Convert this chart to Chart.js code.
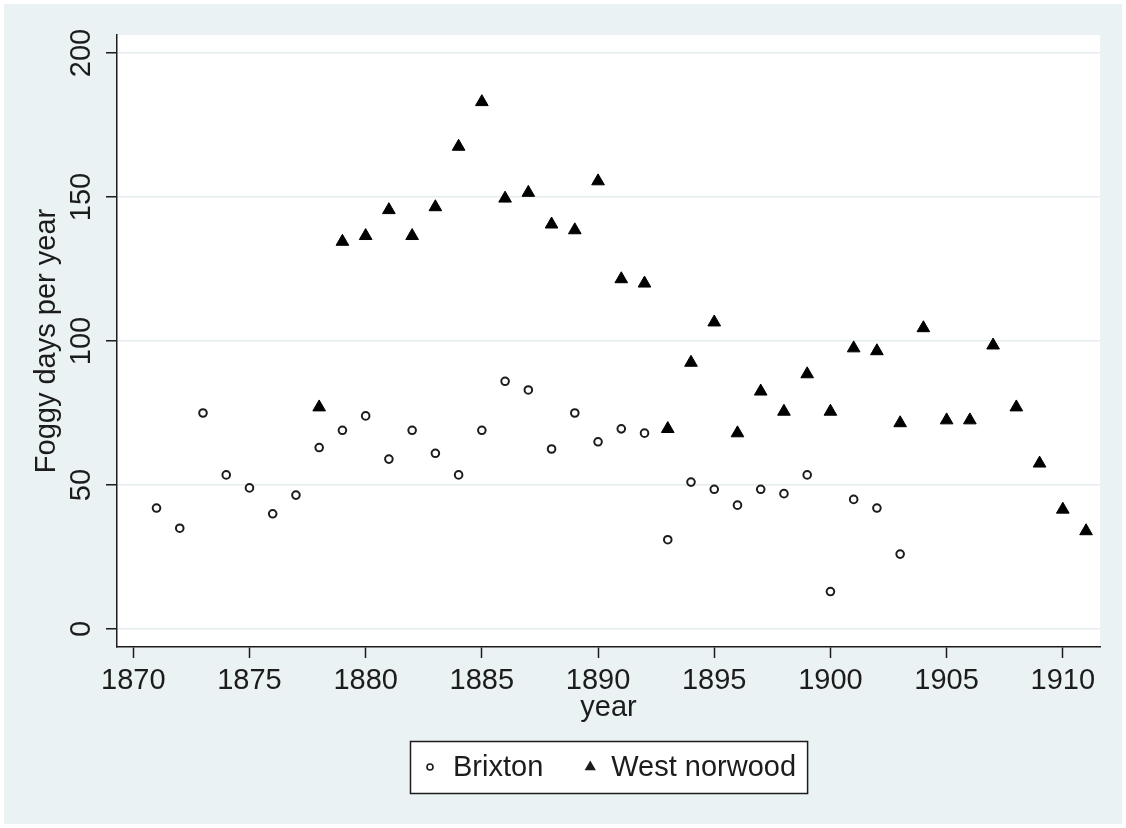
<!DOCTYPE html>
<html><head><meta charset="utf-8">
<script src="https://cdn.jsdelivr.net/npm/chart.js@4/dist/chart.umd.min.js"></script>
<style>html,body{margin:0;padding:0;background:#fff;} #wrap{width:1126px;height:828px;position:relative;} canvas{display:block;}</style>
</head><body><div id="wrap"><canvas id="c" width="1126" height="828"></canvas></div>
<script>
const years = [1871,1872,1873,1874,1875,1876,1877,1878,1879,1880,1881,1882,1883,1884,1885,1886,1887,1888,1889,1890,1891,1892,1893,1894,1895,1896,1897,1898,1899,1900,1901,1902,1903,1904,1905,1906,1907,1908,1909,1910,1911];
const brixton = [42,35,75,53.5,49,40,46.5,63,69,74,59,69,61,53.5,69,86,83,62.5,75,65,69.5,68,31,51,48.5,43,48.5,47,53.5,13,45,42,26,null,null,null,null,null,null,null,null];
const westNorwood = [null,null,null,null,null,null,null,77,134.5,136.5,145.5,136.5,146.5,167.5,183,149.5,151.5,140.5,138.5,155.5,121.5,120,69.5,92.5,106.5,68,82.5,75.5,88.5,75.5,97.5,96.5,71.5,104.5,72.5,72.5,98.5,77,57.5,41.5,34];
const xTicks = [1870,1875,1880,1885,1890,1895,1900,1905,1910];
const yTicks = [0,50,100,150,200];
const seriesNames = ['Brixton','West norwood'];
const xTitle = 'year';
const yTitle = 'Foggy days per year';

const FONT_FAMILY = "'Liberation Sans Narrow', 'Liberation Sans', Arial, sans-serif";
const FS = 29;
const INK = '#1c1c1c';
const BG = '#EAF2F3';

const toPts = arr => years.map((y,i)=>arr[i]==null?null:{x:y,y:arr[i]}).filter(p=>p);

const bgPlugin = {
  id:'bg',
  beforeDraw(chart){
    const {ctx, chartArea:a, width, height} = chart;
    ctx.save();
    ctx.fillStyle='#fff'; ctx.fillRect(0,0,width,height);
    ctx.fillStyle=BG; ctx.fillRect(4,4,width-8,height-8);
    ctx.fillStyle='#fff'; ctx.fillRect(a.left,a.top,a.right-a.left,a.bottom-a.top);
    ctx.restore();
  }
};

const yLabelPlugin = {
  id:'ylabels',
  afterDraw(chart){
    const {ctx} = chart; const s = chart.scales.y;
    ctx.save();
    ctx.font = FS+'px '+FONT_FAMILY;
    ctx.fillStyle = INK; ctx.textAlign='center'; ctx.textBaseline='alphabetic';
    const xr = s.right - 27;
    yTicks.forEach(v=>{
      const py = s.getPixelForValue(v);
      ctx.save(); ctx.translate(xr, py); ctx.rotate(-Math.PI/2);
      ctx.fillText(String(v),0,0); ctx.restore();
    });
    ctx.restore();
  }
};

const legendPlugin = {
  id:'boxlegend',
  afterDraw(chart){
    const {ctx, chartArea:a} = chart;
    ctx.save();
    ctx.font = FS+'px '+FONT_FAMILY;
    const w1 = ctx.measureText(seriesNames[0]).width;
    const w2 = ctx.measureText(seriesNames[1]).width;
    const padL=20, m2t=23, gap=47, padR=11;
    const total = padL + m2t + w1 + gap + 21 + w2 + padR;
    const cx = (a.left+a.right)/2;
    const left = Math.round(cx - total/2), top = 741, h = 52;
    ctx.fillStyle='#fff'; ctx.fillRect(left,top,total,h);
    ctx.strokeStyle=INK; ctx.lineWidth=1.5; ctx.strokeRect(left+0.5,top+0.5,total,h);
    const my = top + h/2;
    let x = left + padL;
    ctx.beginPath(); ctx.arc(x,my,3,0,Math.PI*2); ctx.lineWidth=1.6; ctx.stroke();
    ctx.fillStyle=INK; ctx.textBaseline='middle'; ctx.textAlign='left';
    x += m2t; ctx.fillText(seriesNames[0], x, my+1);
    x += w1 + gap;
    const r=6.5;
    ctx.beginPath();
    ctx.moveTo(x, my - r);
    ctx.lineTo(x + r*Math.sin(2*Math.PI/3), my - r*Math.cos(2*Math.PI/3));
    ctx.lineTo(x + r*Math.sin(4*Math.PI/3), my - r*Math.cos(4*Math.PI/3));
    ctx.closePath(); ctx.fill();
    x += 21; ctx.fillText(seriesNames[1], x, my+1);
    ctx.restore();
  }
};

new Chart(document.getElementById('c'), {
  type:'scatter',
  data:{datasets:[
    {label:seriesNames[0], data:toPts(brixton), pointStyle:'circle', pointRadius:3.8, pointBorderWidth:2, borderColor:INK, backgroundColor:'rgba(255,255,255,0)', pointHoverRadius:3.8},
    {label:seriesNames[1], data:toPts(westNorwood), pointStyle:'triangle', pointRadius:7.3, pointBorderWidth:1, borderColor:'#000', backgroundColor:'#000', pointHoverRadius:7.3}
  ]},
  options:{
    responsive:false, animation:false, devicePixelRatio:1,
    layout:{padding:{left:30,right:26,top:35,bottom:103}},
    plugins:{legend:{display:false}, tooltip:{enabled:false}},
    scales:{
      x:{type:'linear', min:1869.3, max:1911.6,
        afterBuildTicks:s=>{s.ticks = xTicks.map(v=>({value:v}));},
        afterFit:s=>{s.height=78;},
        grid:{drawOnChartArea:false, tickLength:11, tickColor:INK, tickWidth:1.5},
        border:{color:INK, width:1.5},
        ticks:{color:INK, padding:6, maxRotation:0, autoSkip:false, font:{family:FONT_FAMILY,size:FS}, callback:v=>String(v)},
        title:{display:true, text:xTitle, color:INK, padding:0, font:{family:FONT_FAMILY,size:FS}}
      },
      y:{type:'linear', min:-6.25, max:206.25,
        afterBuildTicks:s=>{s.ticks = yTicks.map(v=>({value:v}));},
        afterFit:s=>{s.width=87;},
        grid:{color:'#E4ECEE', lineWidth:1.5, tickLength:11, tickColor:INK, tickWidth:1.5},
        border:{color:INK, width:1.5},
        ticks:{color:'rgba(0,0,0,0)', font:{family:FONT_FAMILY,size:FS}},
        title:{display:true, text:yTitle, color:INK, padding:0, font:{family:FONT_FAMILY,size:FS}}
      }
    }
  },
  plugins:[bgPlugin, yLabelPlugin, legendPlugin]
});
</script></body></html>
